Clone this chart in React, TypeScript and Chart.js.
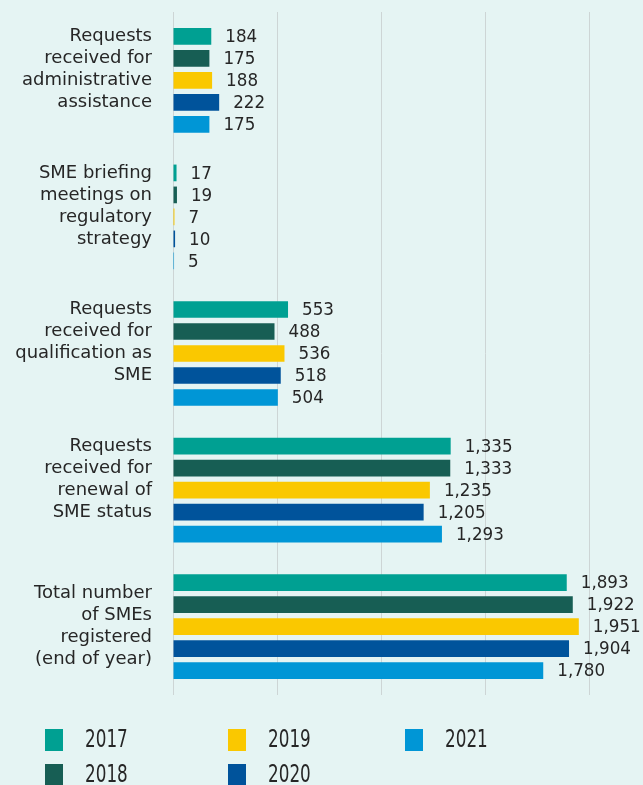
import React, { useEffect, useRef } from "react";
import { Chart, registerables } from "chart.js";

Chart.register(...registerables);

const categories: string[][] = [
  ["Requests", "received for", "administrative", "assistance", ""],
  ["SME briefing", "meetings on", "regulatory", "strategy", ""],
  ["Requests", "received for", "qualification as", "SME", ""],
  ["Requests", "received for", "renewal of", "SME status", ""],
  ["Total number", "of SMEs", "registered", "(end of year)"],
];

const years = ["2017", "2018", "2019", "2020", "2021"];
const values2017 = [184, 17, 553, 1335, 1893];
const values2018 = [175, 19, 488, 1333, 1922];
const values2019 = [188, 7, 536, 1235, 1951];
const values2020 = [222, 10, 518, 1205, 1904];
const values2021 = [175, 5, 504, 1293, 1780];
const seriesValues = [values2017, values2018, values2019, values2020, values2021];
const colors = ["#00a092", "#175e54", "#fac800", "#00539b", "#0096d6"];

const TEXT = "#262626";
const BG = "#e5f4f3";
const FONT = "'DejaVu Sans', Verdana, sans-serif";

const dataLabelPlugin = {
  id: "dataLabels",
  afterDatasetsDraw(chart: any) {
    const ctx = chart.ctx;
    ctx.save();
    ctx.fillStyle = TEXT;
    ctx.font = `18px ${FONT}`;
    ctx.textAlign = "left";
    ctx.textBaseline = "middle";
    chart.data.datasets.forEach((ds: any, di: number) => {
      const meta = chart.getDatasetMeta(di);
      meta.data.forEach((bar: any, i: number) => {
        const v = ds.data[i] as number;
        const txt = v.toLocaleString("en-US");
        ctx.save();
        ctx.translate(bar.x + 14, bar.y + 1);
        ctx.scale(0.93, 1);
        ctx.fillText(txt, 0, 0);
        ctx.restore();
      });
    });
    ctx.restore();
  },
};

const legendPlugin = {
  id: "customLegend",
  afterDraw(chart: any) {
    const ctx = chart.ctx;
    const colX = [45, 228, 405];
    const rowY = [729, 764];
    ctx.save();
    chart.data.datasets.forEach((ds: any, i: number) => {
      const col = Math.floor(i / 2);
      const row = i % 2;
      const x = colX[col];
      const y = rowY[row];
      ctx.fillStyle = ds.backgroundColor;
      ctx.fillRect(x, y, 18, 22);
      ctx.save();
      ctx.fillStyle = TEXT;
      ctx.font = `24px ${FONT}`;
      ctx.textAlign = "left";
      ctx.textBaseline = "middle";
      ctx.translate(x + 40, y + 12);
      ctx.scale(0.7, 1);
      ctx.fillText(ds.label, 0, 0);
      ctx.restore();
    });
    ctx.restore();
  },
};

export default function App() {
  const ref = useRef<HTMLCanvasElement | null>(null);

  useEffect(() => {
    if (!ref.current) return;
    const chart = new Chart(ref.current, {
      type: "bar",
      data: {
        labels: categories as any,
        datasets: years.map((y, i) => ({
          label: y,
          data: seriesValues[i],
          backgroundColor: colors[i],
          borderWidth: 0,
          categoryPercentage: 0.805,
          barPercentage: 0.76,
        })),
      },
      options: {
        indexAxis: "y",
        responsive: false,
        animation: false,
        layout: { padding: { top: 12, right: 54, bottom: 90, left: 0 } },
        plugins: {
          legend: { display: false },
          tooltip: { enabled: false },
        },
        scales: {
          x: {
            min: 0,
            max: 2000,
            ticks: { display: false, stepSize: 500 },
            grid: { color: "#cdd5d5", lineWidth: 1, drawTicks: false },
            border: { display: false },
            afterFit: (s: any) => {
              s.height = 0;
              s.paddingLeft = 0;
              s.paddingRight = 0;
            },
          },
          y: {
            ticks: {
              color: TEXT,
              font: { family: FONT, size: 18, lineHeight: 1.222 },
              padding: 21,
              autoSkip: false,
            },
            grid: { display: false, drawTicks: false },
            border: { display: false },
            afterFit: (s: any) => {
              s.width = 173;
              s.paddingTop = 0;
              s.paddingBottom = 0;
            },
          },
        },
      },
      plugins: [dataLabelPlugin, legendPlugin],
    });
    return () => chart.destroy();
  }, []);

  return (
    <div
      style={{
        position: "fixed",
        left: 0,
        top: 0,
        width: 643,
        height: 785,
        background: BG,
        overflow: "hidden",
      }}
    >
      <canvas ref={ref} width={643} height={785} style={{ display: "block", width: 643, height: 785 }} />
    </div>
  );
}
